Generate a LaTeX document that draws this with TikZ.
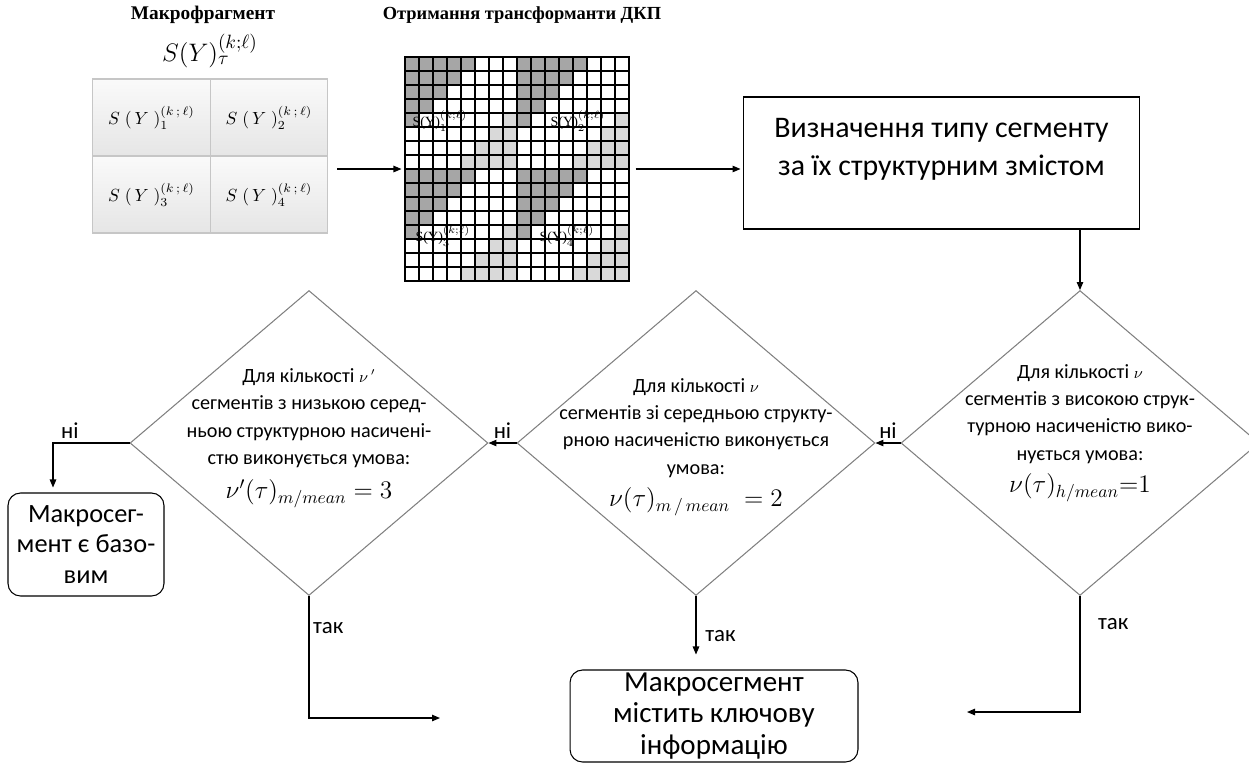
\documentclass[tikz,border=0pt]{standalone}
\usepackage{fontspec}
\setmainfont{Liberation Serif}
\newfontfamily\calibri{Carlito}
\usetikzlibrary{shapes.geometric,arrows.meta}
\newcommand\condeqfont{\fontsize{14}{16}\selectfont}

\begin{document}
\begin{tikzpicture}[x=0.02cm,y=-0.02cm,line width=0.6pt,
  >={Triangle[length=1.6mm,width=1.3mm]},
  cond/.style={draw=gray,diamond,minimum width=7.16cm,minimum height=6.1cm,inner sep=0pt},
  condtxt/.style={font=\calibri\fontsize{11.5}{15.6}\selectfont,align=center,inner sep=0pt},
  term/.style={draw,rounded corners=2.5mm,align=center,inner sep=0pt},
  lbl/.style={font=\calibri\fontsize{13}{15}\selectfont,inner sep=2pt},
  mfcell/.style={draw=gray!45,top color=gray!4,bottom color=gray!20,minimum width=2.35cm,minimum height=1.54cm,inner sep=0pt,font=\fontsize{10}{12}\selectfont},
  ttl/.style={font=\bfseries\fontsize{10.5}{13}\selectfont},
  darkcell/.style={fill=gray!70},lightcell/.style={fill=gray!30},
  qlbl/.style={font=\fontsize{8}{9}\selectfont,inner sep=0pt}]
\useasboundingbox (0,0) rectangle (1249,769);

% macrofragment
\node[ttl,font=\bfseries\fontsize{11}{13}\selectfont,inner sep=0pt] (mftitle) at (203,15) {Макрофрагмент};
\node[font=\fontsize{15}{17}\selectfont,inner sep=0pt] (mfsym) at (210,51) {$S(Y)_\tau^{(k;\ell)}$};
\node[mfcell] (mf1) at (151.5,117.5) {$S\;(\,Y\;)_1^{(k\,;\,\ell)}$};
\node[mfcell] (mf2) at (269,117.5) {$S\;(\,Y\;)_2^{(k\,;\,\ell)}$};
\node[mfcell] (mf3) at (151.5,194.5) {$S\;(\,Y\;)_3^{(k\,;\,\ell)}$};
\node[mfcell] (mf4) at (269,194.5) {$S\;(\,Y\;)_4^{(k\,;\,\ell)}$};

% DCT transform grid
\node[ttl] (dkptitle) at (522,15) {Отримання трансформанти ДКП};
\foreach \qx/\qy in {405/57,517/57,405/169,517/169}
  \foreach \r in {0,...,7}
    \foreach \c in {0,...,7}{
      \pgfmathtruncatemacro{\s}{\r+\c}
      \ifnum\s<5 \fill[darkcell] (\qx+\c*14,\qy+\r*14) rectangle ++(14,14);\fi
      \ifnum\s>10 \fill[lightcell] (\qx+\c*14,\qy+\r*14) rectangle ++(14,14);\fi
    }
\foreach \i in {0,...,16}{
  \draw (405+\i*14,57) -- (405+\i*14,281);
  \draw (405,57+\i*14) -- (629,57+\i*14);
}
\draw[line width=1.4pt] (405,57) rectangle (629,281) (517,57) -- (517,281) (405,169) -- (629,169);
\node[inner sep=0pt,minimum width=4.48cm,minimum height=4.48cm] (dkp) at (517,169) {};
\node[qlbl] (q1) at (440,121) {S(Y)$_1^{(k;\ell)}$};
\node[qlbl] (q2) at (578,121) {S(Y)$_2^{(k;\ell)}$};
\node[qlbl] (q3) at (443,236) {S(Y)$_3^{(k;\ell)}$};
\node[qlbl] (q4) at (567,236) {S(Y)$_4^{(k;\ell)}$};

\node[draw,minimum width=7.94cm,minimum height=2.64cm] (typebox) at (941.5,163) {};
\node[align=center,font=\calibri\fontsize{17}{21.6}\selectfont] (typetxt) at (941.5,149) {Визначення типу сегменту\\за їх структурним змістом};

% conditions
\node[cond] (d1) at (1080,443) {};
\node[cond] (d2) at (696,443) {};
\node[cond] (d3) at (309,443) {};
\node[condtxt] (d1txt) at (1080,433) {Для кількості {\small$\nu$}\\сегментів з високою струк-\\турною насиченістю вико-\\нується умова:\\[3pt]{\condeqfont$\nu(\tau)_{h/mean}{=}1$}};
\node[condtxt] (d2txt) at (696,447) {Для кількості {\small$\nu$}\\сегментів зі середньою структу-\\рною насиченістю виконується\\умова:\\[3pt]{\condeqfont$\nu(\tau)_{m\,/\,mean}\;=2$}};
\node[condtxt] (d3txt) at (309,438) {Для кількості {\small$\nu\,'$}\\сегментів з низькою серед-\\ньою структурною насичені-\\стю виконується умова:\\[4pt]{\condeqfont$\nu'(\tau)_{m/mean}=3$}};

\node[term,minimum width=3.12cm,minimum height=2.06cm,font=\calibri\fontsize{15}{17.6}\selectfont] (base) at (86,544.5) {Макросег-\\мент є базо-\\вим};
\node[term,minimum width=5.76cm,minimum height=1.84cm] (key) at (714,716) {};
\node[align=center,font=\calibri\fontsize{16.5}{18}\selectfont] (keytxt) at (714,716) {Макросегмент\\містить ключову\\інформацію};
\coordinate (nobend) at (53,443);
\coordinate (yesl) at (440,718);
\coordinate (yesr) at (967,712);

\draw[->,shorten <=0.18cm,shorten >=0.06cm] (mf4.east |- dkp.west) -- (dkp.west);
\draw[->,shorten <=0.12cm,shorten >=0.04cm] (dkp.east) -- (dkp.east -| typebox.west);
\draw[->] (typebox.south -| d1.north) -- (d1.north);
\draw[->] (d1.west) -- node[lbl,above]{ні} (d2.east);
\draw[->] (d2.west) -- node[lbl,above]{ні} (d3.east);
\draw[->,shorten >=0.1cm] (d3.west) -- node[lbl,above,pos=0.78]{ні} (nobend) -- (nobend |- base.north);
\draw[->,shorten >=0.3cm] (d2.south) -- node[lbl,right,pos=0.55,xshift=3pt]{так} (d2.south |- key.north);
\draw[->] (d3.south) |- node[lbl,right,pos=0.13]{так} (yesl);
\draw[->] (d1.south) |- node[lbl,right,pos=0.12,xshift=8pt]{так} (yesr);
\end{tikzpicture}
\end{document}
